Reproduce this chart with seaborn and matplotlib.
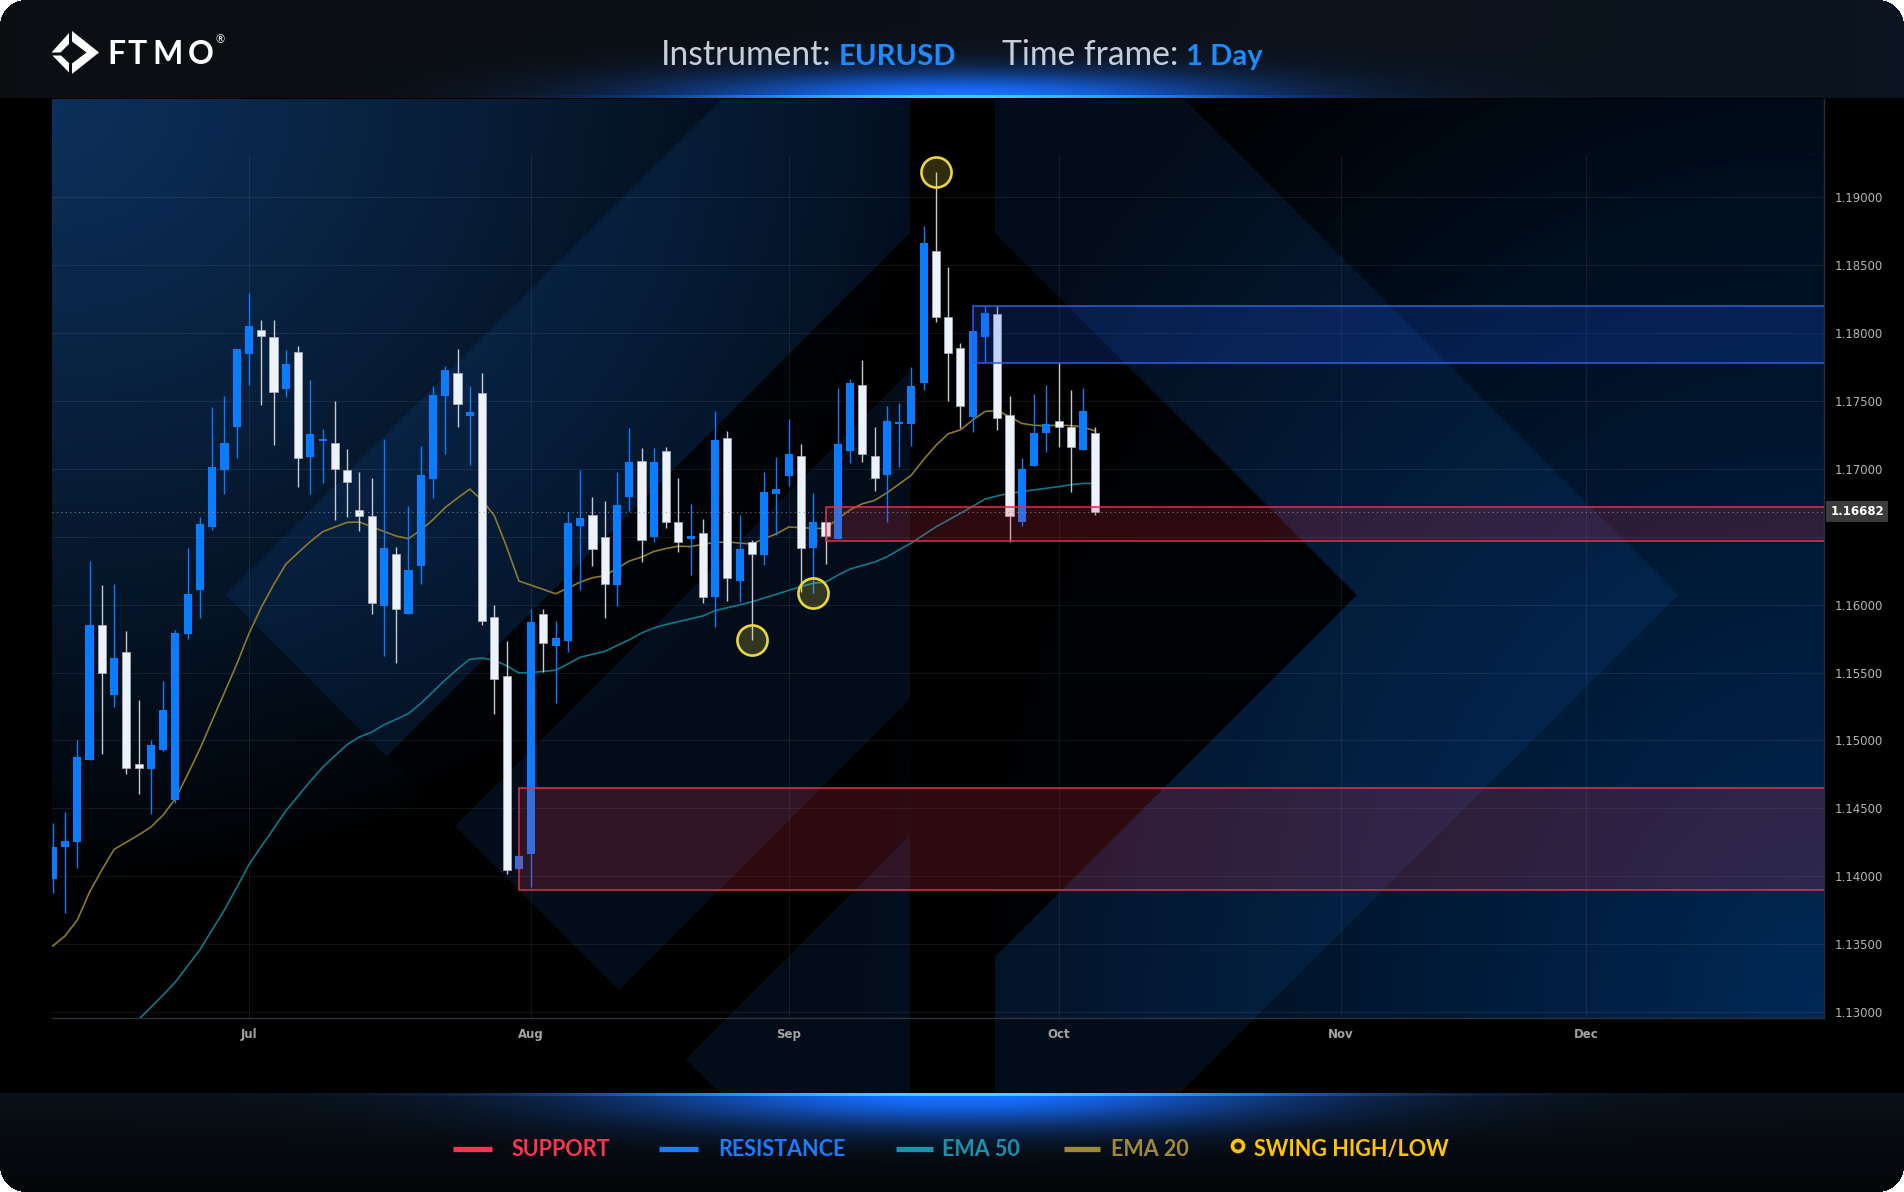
import numpy as np
import pandas as pd
import matplotlib
matplotlib.use("Agg")
import matplotlib.pyplot as plt
import seaborn as sns
from matplotlib.patches import Polygon, Rectangle, Circle
from matplotlib.transforms import blended_transform_factory

# ---------------- data (EURUSD daily) ----------------
start_date = "2025-06-09"
open_ = [1.13981, 1.14213, 1.14257, 1.14859, 1.15849, 1.15333, 1.15650, 1.14830, 1.14790, 1.14931,
         1.14562, 1.15781, 1.16109, 1.16570, 1.16989, 1.17302, 1.17840, 1.18019, 1.17967, 1.17585,
         1.17857, 1.17087, 1.17200, 1.17188, 1.16989, 1.16695, 1.16648, 1.15986, 1.16371, 1.15928,
         1.16285, 1.16923, 1.17530, 1.17701, 1.17386, 1.17555, 1.15908, 1.15474, 1.14057, 1.14163,
         1.15928, 1.15695, 1.15731, 1.16574, 1.16655, 1.16494, 1.16143, 1.16793, 1.17055, 1.16494,
         1.17127, 1.16609, 1.16479, 1.16524, 1.16057, 1.17227, 1.16175, 1.16457, 1.16366, 1.16813,
         1.16947, 1.17090, 1.16419, 1.16609, 1.16485, 1.17129, 1.17612, 1.17090, 1.16950, 1.17327,
         1.17325, 1.17627, 1.18600, 1.18117, 1.17886, 1.17377, 1.17970, 1.18139, 1.17391, 1.16607,
         1.17019, 1.17259, 1.17347, 1.17305, 1.17136, 1.17261]
high = [1.14393, 1.14475, 1.15003, 1.16320, 1.16144, 1.16151, 1.15805, 1.15297, 1.15003, 1.15437,
        1.15812, 1.16415, 1.16647, 1.17452, 1.17537, 1.17879, 1.18291, 1.18096, 1.18096, 1.17872,
        1.17901, 1.17651, 1.17291, 1.17497, 1.17144, 1.16974, 1.16931, 1.17215, 1.16423, 1.16724,
        1.17168, 1.17604, 1.17754, 1.17879, 1.17607, 1.17703, 1.15996, 1.15731, 1.14160, 1.15970,
        1.15970, 1.15876, 1.16677, 1.16986, 1.16790, 1.16759, 1.16974, 1.17298, 1.17151, 1.17151,
        1.17160, 1.16928, 1.16739, 1.16629, 1.17425, 1.17278, 1.16656, 1.16474, 1.16974, 1.17083,
        1.17366, 1.17179, 1.16818, 1.16610, 1.17590, 1.17658, 1.17796, 1.17305, 1.17462, 1.17480,
        1.17744, 1.18784, 1.19179, 1.18482, 1.17925, 1.18014, 1.18195, 1.18195, 1.17536, 1.17075,
        1.17546, 1.17614, 1.17786, 1.17580, 1.17590, 1.17305]
low = [1.13878, 1.13733, 1.14062, 1.14859, 1.14897, 1.15246, 1.14757, 1.14606, 1.14460, 1.14920,
       1.14542, 1.15746, 1.15900, 1.16548, 1.16813, 1.17077, 1.17616, 1.17471, 1.17173, 1.17529,
       1.16864, 1.16816, 1.16897, 1.16624, 1.16645, 1.16540, 1.15928, 1.15623, 1.15568, 1.15928,
       1.16151, 1.16787, 1.17110, 1.17307, 1.17026, 1.15852, 1.15192, 1.14018, 1.14050, 1.13926,
       1.15503, 1.15279, 1.15650, 1.16107, 1.16285, 1.15903, 1.15989, 1.16690, 1.16315, 1.16462,
       1.16560, 1.16388, 1.16219, 1.16013, 1.15832, 1.16028, 1.16018, 1.15739, 1.16288, 1.16511,
       1.16874, 1.16094, 1.16082, 1.16296, 1.16485, 1.17038, 1.17046, 1.16835, 1.16609, 1.17013,
       1.17166, 1.17578, 1.18080, 1.17497, 1.17296, 1.17266, 1.17786, 1.17283, 1.16462, 1.16579,
       1.17019, 1.17119, 1.17158, 1.16830, 1.17136, 1.16658]
close = [1.14213, 1.14263, 1.14882, 1.15849, 1.15499, 1.15609, 1.14795, 1.14800, 1.14966, 1.15225,
         1.15790, 1.16080, 1.16595, 1.17014, 1.17188, 1.17879, 1.18052, 1.17976, 1.17566, 1.17770,
         1.17077, 1.17254, 1.17220, 1.16999, 1.16902, 1.16648, 1.16012, 1.16419, 1.15970, 1.16254,
         1.16955, 1.17538, 1.17725, 1.17477, 1.17416, 1.15876, 1.15450, 1.14050, 1.14152, 1.15873,
         1.15720, 1.15757, 1.16603, 1.16637, 1.16408, 1.16151, 1.16730, 1.17048, 1.16476, 1.17048,
         1.16607, 1.16462, 1.16501, 1.16057, 1.17210, 1.16193, 1.16406, 1.16369, 1.16825, 1.16849,
         1.17107, 1.16419, 1.16610, 1.16502, 1.17178, 1.17631, 1.17105, 1.16932, 1.17350, 1.17344,
         1.17605, 1.18657, 1.18114, 1.17847, 1.17462, 1.18014, 1.18146, 1.17369, 1.16651, 1.16994,
         1.17261, 1.17330, 1.17303, 1.17158, 1.17423, 1.16682]
ema20 = [1.13488, 1.13562, 1.13679, 1.13885, 1.14047, 1.14199, 1.14252, 1.14305, 1.14363, 1.14452,
         1.14572, 1.14750, 1.14939, 1.15147, 1.15353, 1.15561, 1.15787, 1.15979, 1.16145, 1.16296,
         1.16381, 1.16463, 1.16535, 1.16570, 1.16604, 1.16607, 1.16572, 1.16537, 1.16504, 1.16484,
         1.16548, 1.16624, 1.16714, 1.16783, 1.16849, 1.16768, 1.16653, 1.16425, 1.16173, 1.16142,
         1.16111, 1.16079, 1.16121, 1.16165, 1.16197, 1.16213, 1.16265, 1.16320, 1.16349, 1.16390,
         1.16412, 1.16429, 1.16426, 1.16443, 1.16457, 1.16460, 1.16452, 1.16445, 1.16484, 1.16520,
         1.16570, 1.16566, 1.16560, 1.16560, 1.16629, 1.16696, 1.16741, 1.16766, 1.16821, 1.16886,
         1.16952, 1.17066, 1.17170, 1.17256, 1.17284, 1.17357, 1.17420, 1.17427, 1.17383, 1.17332,
         1.17318, 1.17315, 1.17319, 1.17316, 1.17306, 1.17276]
ema50 = [np.nan] * 7 + [
         1.12948, 1.13038, 1.13128, 1.13224, 1.13342, 1.13461, 1.13608, 1.13754, 1.13918, 1.14087,
         1.14220, 1.14351, 1.14482, 1.14591, 1.14700, 1.14802, 1.14887, 1.14970, 1.15026, 1.15061,
         1.15115, 1.15156, 1.15198, 1.15272, 1.15359, 1.15445, 1.15525, 1.15598, 1.15606, 1.15591,
         1.15550, 1.15497, 1.15500, 1.15508, 1.15517, 1.15563, 1.15612, 1.15634, 1.15655, 1.15698,
         1.15741, 1.15790, 1.15828, 1.15853, 1.15874, 1.15895, 1.15916, 1.15955, 1.15977, 1.15997,
         1.16020, 1.16048, 1.16076, 1.16104, 1.16132, 1.16157, 1.16165, 1.16215, 1.16261, 1.16287,
         1.16312, 1.16351, 1.16402, 1.16453, 1.16512, 1.16571, 1.16621, 1.16671, 1.16722, 1.16775,
         1.16799, 1.16818, 1.16830, 1.16843, 1.16855, 1.16867, 1.16881, 1.16891, 1.16891]

month_labels = ["Jul", "Aug", "Sep", "Oct", "Nov", "Dec"]
month_starts = ["2025-07-01", "2025-08-01", "2025-09-01", "2025-10-01", "2025-11-03", "2025-12-01"]
y_ticks = [1.130, 1.135, 1.140, 1.145, 1.150, 1.155, 1.160, 1.165, 1.170, 1.175, 1.180, 1.185, 1.190]
support_start = [38, 63]
support_low = [1.13900, 1.16469]
support_high = [1.14649, 1.16719]
resistance_start = [75]
resistance_low = [1.17774]
resistance_high = [1.18195]
swing_bar = [57, 62, 72]
swing_price = [1.15739, 1.16082, 1.19179]
last_price = 1.16682

instrument = "EURUSD"
timeframe = "1 Day"
legend_labels = ["SUPPORT", "RESISTANCE", "EMA 50", "EMA 20", "SWING HIGH/LOW"]

# ---------------- figure / background ----------------
W, H = 1904, 1192
FONT = ["Lato", "DejaVu Sans"]
fig = plt.figure(figsize=(W / 100, H / 100), dpi=100, facecolor="white")

yy, xx = np.mgrid[0:H, 0:W].astype(float)
yy += 0.5
xx += 0.5
img = np.zeros((H, W, 4))
img[..., 3] = 1.0

def add(mask, rgb, w=1.0):
    for k in range(3):
        img[..., k] += np.where(mask, rgb[k] * w, 0.0)

# header
hdr = yy < 98
t = xx / W
add(hdr, (0.045, 0.055, 0.07))
add(hdr, (0.0, 0.03, 0.07), t * 0.8)
g = np.exp(-((xx - 960) / 280) ** 2 - ((yy - 98) / 26) ** 2)
add(hdr, (0.05, 0.38, 0.95), g)
gl = np.exp(-((xx - 960) / 230) ** 2)
add((yy >= 95) & (yy < 98.5), (0.1, 0.5, 1.0), gl * 0.8)

# footer
ftr = yy >= 1093
fade = 1 - 0.65 * np.clip((yy - 1093) / 99, 0, 1)
add(ftr, (0.04, 0.065, 0.095), fade)
g2 = np.exp(-((xx - 960) / 330) ** 2 - ((yy - 1093) / 34) ** 2)
add(ftr, (0.05, 0.38, 0.95), g2)
gl2 = np.exp(-((xx - 960) / 330) ** 2)
add((yy >= 1093) & (yy < 1096.5), (0.1, 0.5, 1.0), gl2 * 0.9)

# plot-area gradient
pa = (xx >= 52) & (xx < 1824) & (yy >= 99) & (yy < 1018)
u = (xx - 52) / 1772
v = (yy - 99) / 919
a = np.clip(1 - np.sqrt((u / 0.5) ** 2 + (v / 0.85) ** 2), 0, 1) ** 0.8
b = np.clip(1 - np.sqrt(((1 - u) / 0.55) ** 2 + ((1 - v) / 1.3) ** 2), 0, 1) ** 0.9
add(pa, (0.05, 0.19, 0.36), a)
add(pa, (0.0, 0.16, 0.34), b)
img[..., :3] = np.clip(img[..., :3], 0, 1)

# rounded card corners
r = 26
for cx, cy in [(r, r), (W - r, r), (r, H - r), (W - r, H - r)]:
    inx = (xx < r) if cx == r else (xx > W - r)
    iny = (yy < r) if cy == r else (yy > H - r)
    outside = inx & iny & (((xx - cx) ** 2 + (yy - cy) ** 2) > r * r)
    img[..., 3] = np.where(outside, 0.0, img[..., 3])

bg = fig.add_axes([0, 0, 1, 1])
bg.imshow(img, extent=(0, W, H, 0), interpolation="bilinear", aspect="auto", zorder=0)
bg.set_xlim(0, W)
bg.set_ylim(H, 0)
bg.axis("off")

clip_rect = Rectangle((52, 99), 1772, 994, transform=bg.transData, fc="none", ec="none")
pieces = [
    [(226, 595), (386.7, 756.7), (910, 233), (910, 99), (722, 99)],
    [(455, 826), (619, 990), (910, 699), (910, 371)],
    [(686, 1059), (910, 835), (910, 1093), (720, 1093)],
    [(995, 99), (1184, 99), (1678, 595), (1180, 1093), (995, 1093), (995, 956.7), (1356.7, 595), (995, 233.3)],
]
for pts in pieces:
    p = Polygon(pts, closed=True, fc=(0.12, 0.5, 1.0), alpha=0.10, ec="none", zorder=1)
    bg.add_patch(p)
    p.set_clip_path(clip_rect)
darks = [
    ([(910, 99), (995, 99), (995, 1093), (910, 1093)], 0.9),
    ([(995, 233.3), (1356.7, 595), (995, 956.7)], 0.85),
    ([(386.7, 756.7), (455, 826), (910, 371), (910, 233)], 0.55),
]
for pts, al in darks:
    p = Polygon(pts, closed=True, fc="black", alpha=al, ec="none", zorder=2)
    bg.add_patch(p)
    p.set_clip_path(clip_rect)

renderer = fig.canvas.get_renderer()

def text_width(txt):
    return txt.get_window_extent(renderer=renderer).width

# logo
logo_polys = [
    [(72, 31), (99, 52.5), (72, 74), (72, 63.5), (86.5, 52.5), (72, 41.5)],
    [(69, 33), (69, 44), (60.5, 52.5), (51.5, 52.5)],
    [(52.5, 55.5), (61, 55.5), (69, 63), (69, 72.5)],
]
for pts in logo_polys:
    bg.add_patch(Polygon(pts, closed=True, fc="white", ec="none", zorder=5))
for ch, cxl in zip("FTMO", [116, 137.5, 167.5, 200.5]):
    bg.text(cxl, 64.5, ch, color="white", fontsize=23, fontweight="bold", fontfamily=FONT,
            ha="center", va="baseline", zorder=6)
bg.text(216, 40, "\u00ae", color="white", fontsize=8, fontfamily=FONT, ha="left", va="center", zorder=6)

# title: sizes chosen so each piece spans its measured width
def fit_size(s, wt, target):
    probe = bg.text(0, -500, s, fontsize=22, fontweight=wt, fontfamily=FONT)
    w = text_width(probe)
    probe.remove()
    return 22 * target / w

tsize = fit_size("Instrument:", "normal", 170.0)
bsize = fit_size(instrument, "bold", 117.0)
title_parts = [(661, "Instrument:", "#c6ced9", "normal", tsize),
               (839, instrument, "#1a8cff", "bold", bsize),
               (1002, "Time frame:", "#c6ced9", "normal", tsize),
               (1186, timeframe, "#1a8cff", "bold", bsize)]
for tx, s, col, wt, fs in title_parts:
    bg.text(tx, 65, s, color=col, fontsize=fs, fontweight=wt, fontfamily=FONT,
            ha="left", va="baseline", zorder=6)

# legend
leg_colors = ["#ff3350", "#1a7cff", "#1693ad", "#a08a35", "#ffc400"]
leg_line_x = [(453, 492), (659, 698), (896, 933), (1064, 1100)]
leg_text_x = [512, 718, 942, 1111, 1254]
for (x0, x1), c in zip(leg_line_x, leg_colors[:4]):
    bg.plot([x0, x1], [1149, 1149], color=c, lw=3.8, solid_capstyle="butt", zorder=6)
bg.add_patch(Circle((1238, 1146), 5.5, fc="#1a1a10", ec=leg_colors[4], lw=2.6, zorder=6))
for lbl, lx, c in zip(legend_labels, leg_text_x, leg_colors):
    bg.text(lx, 1156, lbl, color=c, fontsize=15.5, fontweight="bold", fontfamily=FONT,
            ha="left", va="baseline", zorder=6)

# ---------------- main price axes ----------------
ax = fig.add_axes([52 / W, (H - 1018) / H, (1824 - 52) / W, (1018 - 99) / H])
ax.patch.set_alpha(0)
n = len(close)
x = np.arange(n)
o = np.array(open_); c = np.array(close); hi = np.array(high); lo = np.array(low)
df = pd.DataFrame({"bar": x, "open": o, "high": hi, "low": lo, "close": c,
                   "ema20": ema20, "ema50": ema50})

ymin, ymax = 1.12959, 1.19718
ax.set_xlim(-0.06, 144.4)
ax.set_ylim(ymin, ymax)

dates = pd.bdate_range(start_date, periods=160)
mpos = dates.get_indexer(pd.to_datetime(month_starts))

for tk in y_ticks:
    ax.axhline(tk, color=(1, 1, 1, 0.07), lw=0.8, zorder=1)
vtop = (1.19306 - ymin) / (ymax - ymin)
for p in mpos:
    ax.axvline(p, ymin=0, ymax=vtop, color=(1, 1, 1, 0.07), lw=0.8, zorder=1)

# EMAs (seaborn)
sns.lineplot(data=df, x="bar", y="ema20", ax=ax, color="#8a7a2c", linewidth=1.2, zorder=2)
sns.lineplot(data=df, x="bar", y="ema50", ax=ax, color="#12788a", linewidth=1.2, zorder=2)

# candles
up = c >= o
wick_cols = np.where(up, "#0a7cff", "#c4c9d0")
ax.vlines(x, lo, hi, colors=wick_cols, linewidth=1.0, zorder=2.6)
bottom = np.minimum(o, c)
height = np.maximum(np.abs(c - o), 0.00009)
ax.bar(x[up], height[up], bottom=bottom[up], width=0.66, color="#0a7cff", edgecolor="none", zorder=3)
ax.bar(x[~up], height[~up], bottom=bottom[~up], width=0.66, color="#eef3fb",
       edgecolor="#a9b3c2", linewidth=0.5, zorder=3)

# zones
xr = 144.4
for s, l, h in zip(support_start, support_low, support_high):
    ax.add_patch(Rectangle((s, l), xr - s + 2, h - l, fc=(0.9, 0.2, 0.3, 0.20),
                           ec="#e0314b", lw=1.1, zorder=4))
for s, l, h in zip(resistance_start, resistance_low, resistance_high):
    ax.add_patch(Rectangle((s, l), xr - s + 2, h - l, fc=(0.1, 0.35, 0.95, 0.22),
                           ec="#2a5fe6", lw=1.1, zorder=4))

# last price line + label
ax.axhline(last_price, color="#9097a3", lw=0.8, ls=(0, (1, 3)), alpha=0.8, zorder=4.5)
trans = blended_transform_factory(ax.transAxes, ax.transData)
ax.text(1.0035, last_price, f"{last_price:.5f}", transform=trans, color="white", fontsize=8.5,
        fontweight="bold", ha="left", va="center", zorder=7,
        bbox=dict(boxstyle="square,pad=0.35", fc="#3b3b3b", ec="none"))

# swing points (seaborn)
sw = pd.DataFrame({"bar": swing_bar, "price": swing_price})
sns.scatterplot(data=sw, x="bar", y="price", ax=ax, s=470, color=(0.95, 0.88, 0.25, 0.2),
                edgecolor="#e8d640", linewidth=1.9, zorder=5, legend=False)

# axes styling
ax.set_xlabel("")
ax.set_ylabel("")
ax.grid(False)
ax.set_xticks(mpos)
ax.set_xticklabels(month_labels)
ax.yaxis.tick_right()
ax.set_yticks(y_ticks)
ax.set_yticklabels(["" if abs(tk - 1.165) < 1e-9 else f"{tk:.5f}" for tk in y_ticks])
ax.tick_params(axis="y", length=0, pad=8, labelsize=8.5, labelcolor="#b5b5b5")
ax.tick_params(axis="x", length=0, pad=7, labelsize=8.5, labelcolor="#a3a3a3")
for lbl in ax.get_xticklabels():
    lbl.set_fontweight("bold")
for sp in ["top", "left"]:
    ax.spines[sp].set_visible(False)
ax.spines["bottom"].set_color("#2c333d")
ax.spines["right"].set_color("#22303f")
ax.spines["bottom"].set_linewidth(1.0)
ax.spines["right"].set_linewidth(1.0)

fig.savefig("out.png", dpi=100, facecolor="white")
